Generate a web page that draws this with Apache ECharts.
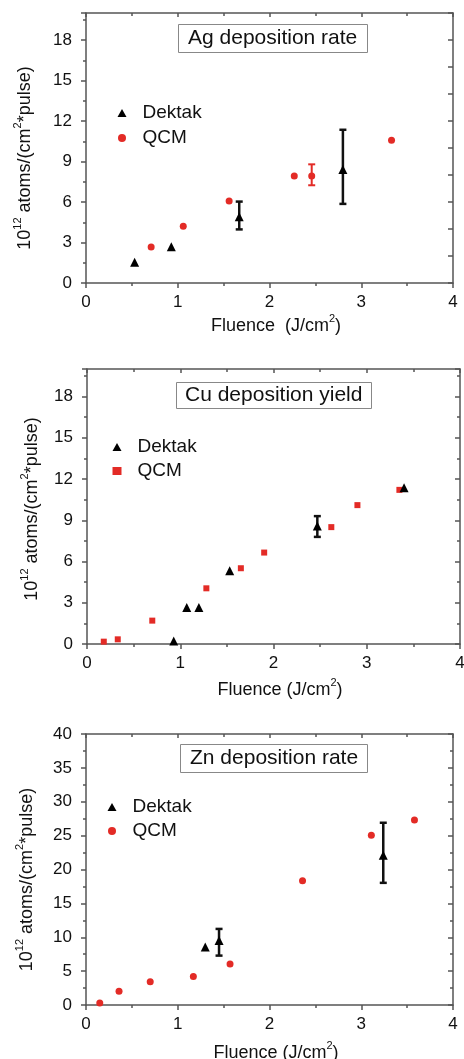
<!DOCTYPE html>
<html><head><meta charset="utf-8">
<script src="https://cdn.jsdelivr.net/npm/echarts@6/dist/echarts.min.js"></script>
<style>html,body{margin:0;padding:0;background:#fff}#c{width:464px;height:1059px}</style>
</head><body><div id="c"></div>
<script>
// ---------- data ----------
const panelTitles = ['Ag deposition rate', 'Cu deposition yield', 'Zn deposition rate'];
const legendNames = ['Dektak', 'QCM'];
const xTicks = [0, 1, 2, 3, 4];
const yTicksAgCu = [0, 3, 6, 9, 12, 15, 18];
const yTicksZn = [0, 5, 10, 15, 20, 25, 30, 35, 40];
const yRangeAgCu = [0, 20];
const yRangeZn = [0, 40];

// Ag
const agDektakX = [0.53, 0.93, 1.67, 2.80];
const agDektakY = [1.53, 2.68, 4.90, 8.40];
const agDektakLo = [null, null, 3.97, 5.86];
const agDektakHi = [null, null, 6.03, 11.35];
const agQcmX = [0.71, 1.06, 1.56, 2.27, 2.46, 3.33];
const agQcmY = [2.66, 4.21, 6.08, 7.93, 7.93, 10.57];
const agQcmLo = [null, null, null, null, 7.24, null];
const agQcmHi = [null, null, null, null, 8.79, null];

// Cu
const cuDektakX = [0.93, 1.07, 1.20, 1.53, 2.47, 3.40];
const cuDektakY = [0.22, 2.65, 2.65, 5.32, 8.59, 11.36];
const cuDektakLo = [null, null, null, null, 7.79, null];
const cuDektakHi = [null, null, null, null, 9.30, null];
const cuQcmX = [0.18, 0.33, 0.70, 1.28, 1.65, 1.90, 2.62, 2.90, 3.35];
const cuQcmY = [0.17, 0.34, 1.70, 4.05, 5.51, 6.65, 8.50, 10.10, 11.21];

// Zn
const znDektakX = [1.30, 1.45, 3.24];
const znDektakY = [8.57, 9.51, 22.12];
const znDektakLo = [null, 7.29, 18.03];
const znDektakHi = [null, 11.23, 26.90];
const znQcmX = [0.15, 0.36, 0.70, 1.17, 1.57, 2.36, 3.11, 3.58];
const znQcmY = [0.30, 2.02, 3.45, 4.19, 6.06, 18.33, 25.07, 27.29];

// ---------- helpers ----------
const FONT = "'Liberation Sans', Arial, Helvetica, sans-serif";
const AXC = '#555';
const RED = '#e32b26';
function pts(xs, ys) { return xs.map((x, i) => [x, ys[i]]); }
function bars(xs, lo, hi) {
  const out = [];
  xs.forEach((x, i) => { if (lo[i] != null) out.push([x, lo[i], hi[i]]); });
  return out;
}
function errRender(color, lw) {
  return function (params, api) {
    const x = api.value(0), lo = api.value(1), hi = api.value(2);
    const a = api.coord([x, hi]), b = api.coord([x, lo]);
    const w = 3.5;
    const st = { stroke: color, lineWidth: lw, fill: null };
    return { type: 'group', children: [
      { type: 'line', shape: { x1: a[0], y1: a[1], x2: b[0], y2: b[1] }, style: st },
      { type: 'line', shape: { x1: a[0] - w, y1: a[1], x2: a[0] + w, y2: a[1] }, style: st },
      { type: 'line', shape: { x1: b[0] - w, y1: b[1], x2: b[0] + w, y2: b[1] }, style: st }
    ] };
  };
}
const rich = {
  a: { fontSize: 18, lineHeight: 22, fontFamily: FONT, color: '#111', verticalAlign: 'bottom' },
  s: { fontSize: 11, lineHeight: 12, fontFamily: FONT, color: '#111', verticalAlign: 'top' }
};
const yName = '{a|10}{s|12}{a| atoms/(cm}{s|2}{a|*pulse)}';

const panels = [
  { grid: { left: 86, top: 13, width: 367, height: 270 }, yTicks: yTicksAgCu, yRange: yRangeAgCu,
    rightInt: 2, rightMinor: false, xName: '{a|Fluence  (J/cm}{s|2}{a|)}', xGap: 30, yGap: 52, yShift: 20,
    title: { left: 178, top: 24, pad: [3, 10, 3, 10], fs: 21 },
    legend: { cx: 122, top: 103, gap: 5 }, qcmIcon: 'circle' },
  { grid: { left: 87, top: 369, width: 373, height: 275 }, yTicks: yTicksAgCu, yRange: yRangeAgCu,
    rightInt: 3, rightMinor: true, xName: '{a|Fluence (J/cm}{s|2}{a|)}', xGap: 33, yGap: 46, yShift: 5,
    title: { left: 176, top: 382, pad: [2, 9, 2, 9], fs: 21 },
    legend: { cx: 117, top: 437, gap: 4 }, qcmIcon: 'rect' },
  { grid: { left: 86, top: 734, width: 367, height: 271 }, yTicks: yTicksZn, yRange: yRangeZn,
    rightInt: 5, rightMinor: true, xName: '{a|Fluence (J/cm}{s|2}{a|)}', xGap: 35, yGap: 50, yShift: 20,
    title: { left: 180, top: 744, pad: [3, 10, 3, 10], fs: 21 },
    legend: { cx: 112, top: 797, gap: 4 }, qcmIcon: 'circle' }
];

const panelData = [
  { dk: pts(agDektakX, agDektakY), dkErr: bars(agDektakX, agDektakLo, agDektakHi),
    q: pts(agQcmX, agQcmY), qErr: bars(agQcmX, agQcmLo, agQcmHi), qSym: 'circle', qSize: 7 },
  { dk: pts(cuDektakX, cuDektakY), dkErr: bars(cuDektakX, cuDektakLo, cuDektakHi),
    q: pts(cuQcmX, cuQcmY), qErr: [], qSym: 'rect', qSize: 6 },
  { dk: pts(znDektakX, znDektakY), dkErr: bars(znDektakX, znDektakLo, znDektakHi),
    q: pts(znQcmX, znQcmY), qErr: [], qSym: 'circle', qSize: 7 }
];

const line = { color: AXC, width: 1.5 };
const grids = [], xAxes = [], yAxes = [], series = [], titlesOpt = [], legends = [];
const LEG_W = 9, LEG_H = 8;

panels.forEach((p, i) => {
  const yt = p.yTicks;
  const yInt = yt[1] - yt[0];
  const yLast = yt[yt.length - 1];
  grids.push(Object.assign({ outerBoundsMode: 'none', containLabel: false }, p.grid));
  xAxes.push({ gridIndex: i, type: 'value', position: 'bottom', min: xTicks[0], max: xTicks[xTicks.length - 1],
    interval: xTicks[1] - xTicks[0],
    name: p.xName, nameLocation: 'middle', nameGap: p.xGap, nameMoveOverlap: false,
    nameTextStyle: { rich: rich, padding: [0, 0, 0, 13] },
    axisLine: { show: true, onZero: false, lineStyle: line },
    axisTick: { show: true, length: 5, lineStyle: line },
    minorTick: { show: true, splitNumber: 2, length: 3, lineStyle: line },
    axisLabel: { fontSize: 17, color: '#111', margin: 11, fontFamily: FONT },
    splitLine: { show: false }, minorSplitLine: { show: false } });
  xAxes.push({ gridIndex: i, type: 'value', position: 'top', min: xTicks[0], max: xTicks[xTicks.length - 1],
    interval: xTicks[1] - xTicks[0],
    axisLine: { show: true, onZero: false, lineStyle: line },
    axisTick: { show: true, inside: true, length: 4, lineStyle: line },
    minorTick: { show: true, splitNumber: 2, length: 3, lineStyle: line },
    axisLabel: { show: false }, splitLine: { show: false } });
  yAxes.push({ gridIndex: i, type: 'value', position: 'left', min: p.yRange[0], max: p.yRange[1], interval: yInt,
    name: yName, nameLocation: 'middle', nameGap: p.yGap, nameRotate: 90, nameMoveOverlap: false,
    nameTextStyle: { rich: rich, padding: [0, p.yShift, 0, 0] },
    axisLine: { show: true, onZero: false, lineStyle: line },
    axisTick: { show: true, length: 5, lineStyle: line },
    minorTick: { show: true, splitNumber: 2, length: 3, lineStyle: line },
    axisLabel: { fontSize: 17, color: '#111', margin: 14, fontFamily: FONT,
      formatter: v => (v > yLast ? '' : String(v)) },
    splitLine: { show: false }, minorSplitLine: { show: false } });
  yAxes.push({ gridIndex: i, type: 'value', position: 'right', min: p.yRange[0], max: p.yRange[1], interval: p.rightInt,
    axisLine: { show: true, onZero: false, lineStyle: line },
    axisTick: { show: true, inside: true, length: 5, lineStyle: line },
    minorTick: { show: p.rightMinor, splitNumber: 2, length: 3, lineStyle: line },
    axisLabel: { show: false }, splitLine: { show: false } });

  const d = panelData[i];
  series.push({ type: 'custom', name: 'Dektak', xAxisIndex: 2 * i, yAxisIndex: 2 * i, data: d.dkErr,
    encode: { x: 0, y: [1, 2] }, renderItem: errRender('#111', 2.5), silent: true, z: 2 });
  if (d.qErr.length) {
    series.push({ type: 'custom', name: 'QCM', xAxisIndex: 2 * i, yAxisIndex: 2 * i, data: d.qErr,
      encode: { x: 0, y: [1, 2] }, renderItem: errRender(RED, 2), silent: true, z: 2 });
  }
  series.push({ type: 'scatter', name: 'QCM', xAxisIndex: 2 * i, yAxisIndex: 2 * i, data: d.q,
    symbol: d.qSym, symbolSize: d.qSize, itemStyle: { color: RED, opacity: 1 }, z: 3, silent: true });
  series.push({ type: 'scatter', name: 'Dektak', xAxisIndex: 2 * i, yAxisIndex: 2 * i, data: d.dk,
    symbol: 'triangle', symbolSize: 9, itemStyle: { color: '#000', opacity: 1 }, z: 4, silent: true });

  titlesOpt.push({ text: panelTitles[i], left: p.title.left, top: p.title.top, padding: p.title.pad,
    borderColor: '#888', borderWidth: 1,
    textStyle: { fontSize: p.title.fs, fontWeight: 'normal', color: '#111', fontFamily: FONT, lineHeight: 23 } });

  legends.push({ left: p.legend.cx - LEG_W / 2, top: p.legend.top, orient: 'vertical', padding: 0,
    itemWidth: LEG_W, itemHeight: LEG_H, itemGap: p.legend.gap, selectedMode: false,
    data: [{ name: legendNames[0], icon: 'triangle', itemStyle: { color: '#000' } },
           { name: legendNames[1], icon: p.qcmIcon, itemStyle: { color: RED } }],
    textStyle: { fontSize: 19, color: '#111', fontFamily: FONT, lineHeight: 20, padding: [0, 0, 0, 11] } });
});

const chart = echarts.init(document.getElementById('c'), null, { renderer: 'canvas' });
chart.setOption({
  backgroundColor: '#fff', animation: false,
  title: titlesOpt, legend: legends, grid: grids, xAxis: xAxes, yAxis: yAxes, series: series
});
</script></body></html>
